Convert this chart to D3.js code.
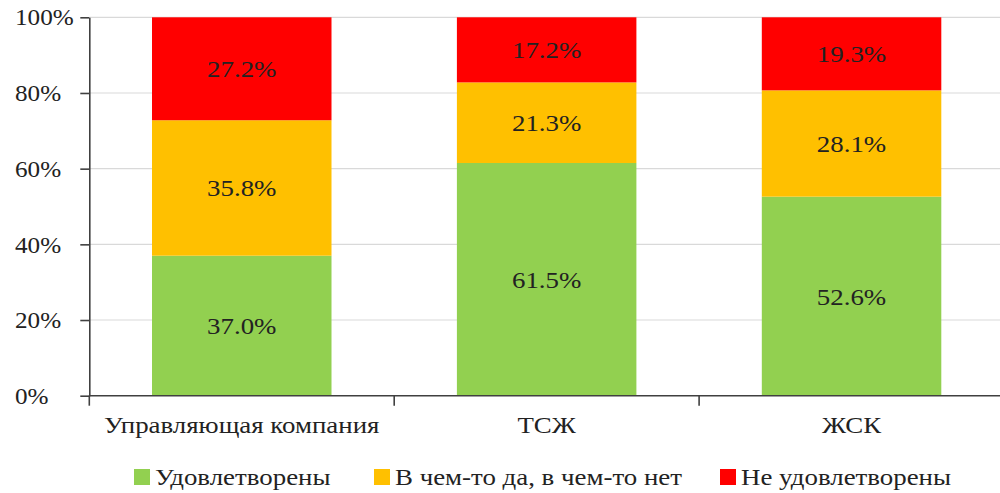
<!DOCTYPE html>
<html><head><meta charset="utf-8">
<script src="https://cdn.jsdelivr.net/npm/d3@7/dist/d3.min.js"></script>
<style>
html,body{margin:0;padding:0;background:#fff;}
svg{display:block;}
svg text{font-family:"Liberation Serif","Times New Roman","Liberation Sans",sans-serif;fill:#222;}
</style></head><body>
<svg id="c" width="1000" height="493"></svg>
<script>
const categories = ["Управляющая компания", "ТСЖ", "ЖСК"];
const seriesNames = ["Удовлетворены", "В чем-то да, в чем-то нет", "Не удовлетворены"];
const satisfied = [37.0, 61.5, 52.6];
const partly = [35.8, 21.3, 28.1];
const notSatisfied = [27.2, 17.2, 19.3];
const yTicks = [0, 20, 40, 60, 80, 100];
const colors = ["#92D050", "#FFC000", "#FF0000"];

const svg = d3.select("#c");
const mLeft = 89.3, mRight = 1004, mTop = 17.3, mBottom = 395.7;
const stretch = 1.12;

const x = d3.scaleBand().domain(categories).range([mLeft, mRight]).padding(0);
const y = d3.scaleLinear().domain([0, 100]).range([mBottom, mTop]);
const barW = 179.5;

// gridlines
svg.append("g").selectAll("line").data(yTicks.filter(d => d > 0)).join("line")
  .attr("x1", mLeft).attr("x2", 1000)
  .attr("y1", d => y(d)).attr("y2", d => y(d))
  .attr("stroke", "#d9d9d9").attr("stroke-width", 1.2);

// stacked data
const rows = categories.map((c, i) => ({cat: c, s0: satisfied[i], s1: partly[i], s2: notSatisfied[i]}));
const stack = d3.stack().keys(["s0", "s1", "s2"])(rows);

const bars = svg.append("g");
stack.forEach((layer, li) => {
  bars.append("g").selectAll("rect").data(layer).join("rect")
    .attr("x", d => x(d.data.cat) + (x.bandwidth() - barW) / 2)
    .attr("width", barW)
    .attr("y", d => y(d[1]))
    .attr("height", d => y(d[0]) - y(d[1]))
    .attr("fill", colors[li]);
});
stack.forEach((layer, li) => {
  bars.append("g").selectAll("text").data(layer).join("text")
    .attr("transform", d => `translate(${x(d.data.cat) + x.bandwidth() / 2},${(y(d[0]) + y(d[1])) / 2}) scale(${stretch},1)`)
    .attr("dy", "0.35em")
    .attr("text-anchor", "middle")
    .attr("font-size", 24)
    .text(d => (d[1] - d[0]).toFixed(1) + "%");
});

// y axis
const yAxis = svg.append("g").attr("transform", `translate(${mLeft},0)`)
  .call(d3.axisLeft(y).tickValues(yTicks).tickFormat(d => d + "%").tickSize(9).tickSizeOuter(0));
yAxis.attr("font-family", null);
yAxis.select(".domain").attr("stroke", "#404040").attr("stroke-width", 1.6);
yAxis.selectAll(".tick line").attr("stroke", "#404040").attr("stroke-width", 1.6);
yAxis.selectAll(".tick text").attr("x", (15 - mLeft) / 1.05).attr("text-anchor", "start")
  .attr("transform", "scale(1.05,1)")
  .attr("font-size", 24).attr("fill", "#222");

// x axis
const xAxis = svg.append("g").attr("transform", `translate(0,${mBottom})`)
  .call(d3.axisBottom(x).tickSize(0).tickSizeOuter(0).tickPadding(20));
xAxis.attr("font-family", null);
xAxis.select(".domain").attr("d", `M${mLeft},0H1000`).attr("stroke", "#404040").attr("stroke-width", 1.6);
xAxis.selectAll(".tick text").attr("font-size", 24).attr("fill", "#222")
  .attr("transform", `scale(${stretch},1)`);
// category boundary ticks
xAxis.append("g").selectAll("line").data(categories).join("line")
  .attr("x1", d => x(d)).attr("x2", d => x(d))
  .attr("y1", 0).attr("y2", 10)
  .attr("stroke", "#404040").attr("stroke-width", 1.6);

// legend
const legendX = [134, 374, 720];
const lg = svg.append("g").selectAll("g").data(seriesNames).join("g")
  .attr("transform", (d, i) => `translate(${legendX[i]},469)`);
lg.append("rect").attr("width", 16).attr("height", 16).attr("fill", (d, i) => colors[i]);
lg.append("text").attr("transform", `translate(21,16) scale(${stretch},1)`)
  .attr("font-size", 24).text(d => d);
</script>
</body></html>
